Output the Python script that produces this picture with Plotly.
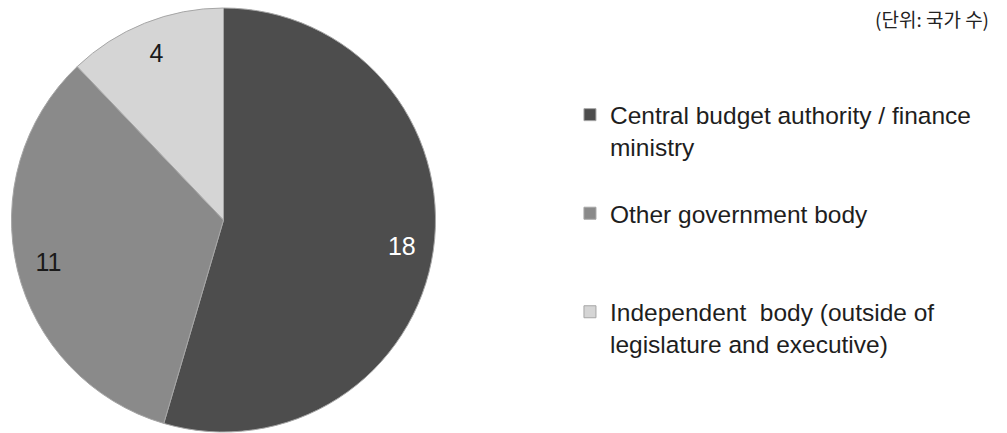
import plotly.graph_objects as go

# Who prepares the fiscal projections (number of countries)
categories = [
    "Central budget authority / finance<br>ministry<br> ",
    "Other government body<br> <br> ",
    "Independent  body (outside of<br>legislature and executive)",
]
counts = [18, 11, 4]
slice_colors = ["#4d4d4d", "#8a8a8a", "#d5d5d5"]
label_colors = ["#ffffff", "#1a1a1a", "#1a1a1a"]
unit_note = "(단위: 국가 수)"

W, H = 1007, 433
cx, cy, r = 223.5, 220.0, 212.0
dom_x = [(cx - r) / W, (cx + r) / W]
dom_y = [(H - (cy + r)) / H, (H - (cy - r)) / H]

fig = go.Figure()

# Filled pie with the legend entries
fig.add_trace(go.Pie(
    labels=categories,
    values=counts,
    sort=False,
    direction="clockwise",
    rotation=0,
    domain=dict(x=dom_x, y=dom_y),
    marker=dict(colors=slice_colors, line=dict(color="#a6a6a6", width=1)),
    textinfo="none",
    hoverinfo="label+value",
    showlegend=True,
))

# Transparent ring on top that carries the value labels near the rim
fig.add_trace(go.Pie(
    labels=categories,
    values=counts,
    sort=False,
    direction="clockwise",
    rotation=0,
    hole=0.7,
    domain=dict(x=dom_x, y=dom_y),
    marker=dict(colors=["rgba(0,0,0,0)"] * 3, line=dict(width=0)),
    text=[str(v) for v in counts],
    textinfo="text",
    textposition="inside",
    insidetextorientation="horizontal",
    insidetextfont=dict(family="Liberation Sans, Arial, sans-serif", size=25, color=label_colors),
    hoverinfo="skip",
    showlegend=False,
))

fig.add_annotation(
    text=unit_note,
    xref="paper", yref="paper",
    x=0.984, y=0.993, xanchor="right", yanchor="top",
    showarrow=False,
    font=dict(family="Noto Sans CJK KR, sans-serif", size=19, color="#222222"),
)

fig.update_layout(
    width=W, height=H,
    margin=dict(l=0, r=0, t=0, b=0),
    paper_bgcolor="white",
    plot_bgcolor="white",
    legend=dict(
        x=0.566, y=0.787, xanchor="left", yanchor="top",
        valign="top",
        font=dict(family="Liberation Sans, Arial, sans-serif", size=24.5, color="#1e1e1e"),
        bgcolor="rgba(0,0,0,0)",
    ),
)

fig.write_html("out.html")
